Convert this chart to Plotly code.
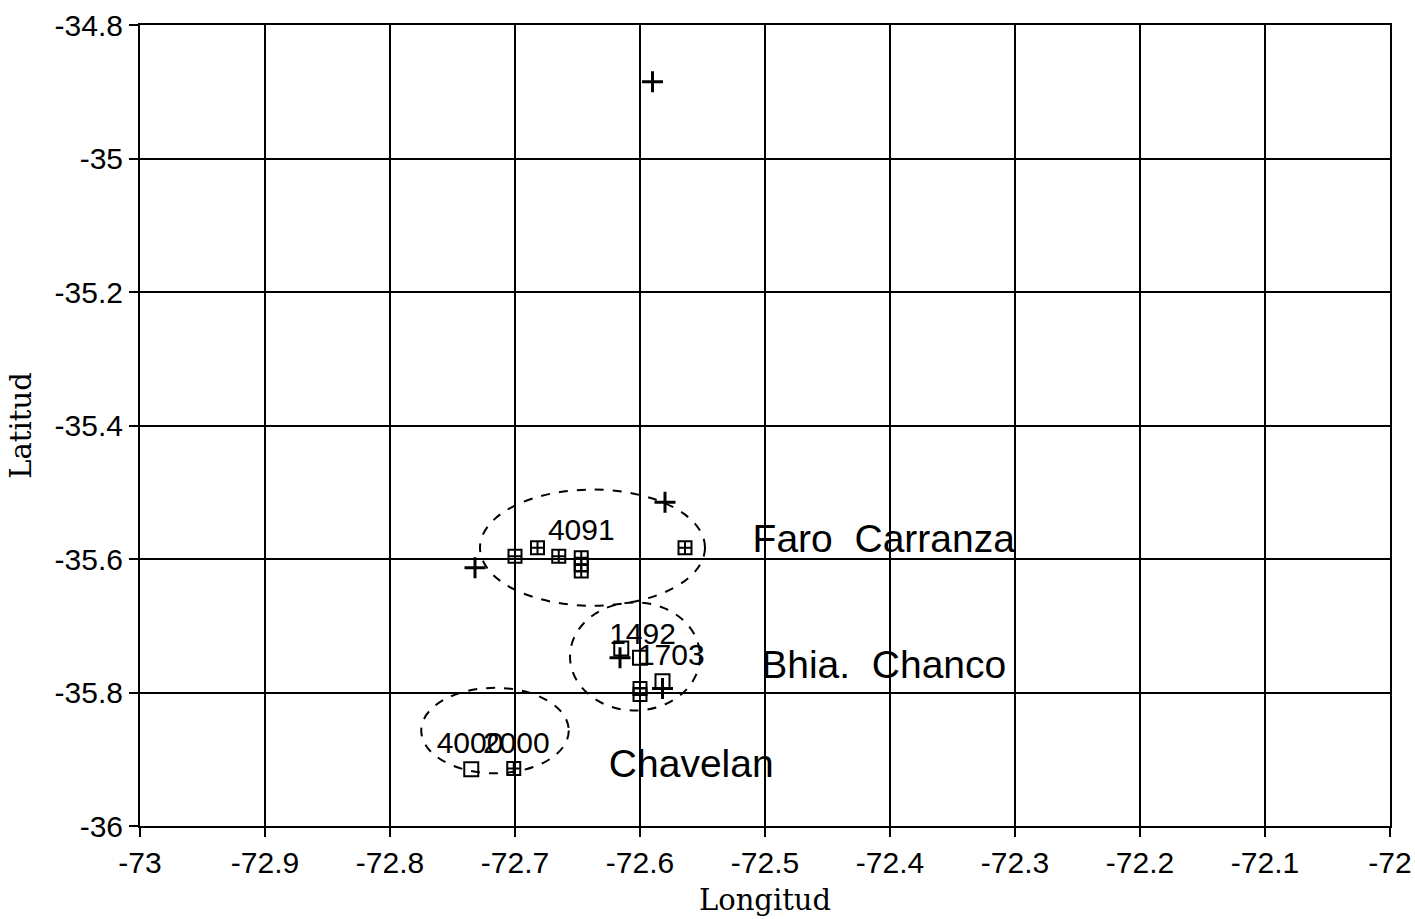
import plotly.graph_objects as go

# Station positions (longitude, latitude)
cross_lon = [-72.59, -72.58, -72.732, -72.616, -72.582]
cross_lat = [-34.885, -35.515, -35.613, -35.748, -35.794]

boxcross_lon = [-72.70, -72.682, -72.665, -72.647, -72.647, -72.647, -72.564, -72.600, -72.600, -72.701]
boxcross_lat = [-35.596, -35.583, -35.596, -35.598, -35.609, -35.618, -35.583, -35.794, -35.803, -35.914]

box_lon = [-72.615, -72.600, -72.582, -72.735]
box_lat = [-35.734, -35.748, -35.783, -35.915]

# Depth labels
depth_text = ["4091", "1492", "1703", "4000", "2000"]
depth_lon = [-72.647, -72.598, -72.575, -72.736, -72.699]
depth_lat = [-35.560, -35.716, -35.747, -35.879, -35.879]

# Place names
place_text = ["Faro  Carranza", "Bhia.  Chanco", "Chavelan"]
place_lon = [-72.405, -72.405, -72.559]
place_lat = [-35.575, -35.763, -35.912]

# Cluster ellipses: centre and half axes
ell_lon = [-72.638, -72.604, -72.716]
ell_lat = [-35.583, -35.746, -35.857]
ell_rx = [0.090, 0.052, 0.059]
ell_ry = [0.087, 0.081, 0.064]

x_ticks = [-73, -72.9, -72.8, -72.7, -72.6, -72.5, -72.4, -72.3, -72.2, -72.1, -72]
y_ticks = [-36, -35.8, -35.6, -35.4, -35.2, -35, -34.8]

_SANS = "Liberation Sans, Arial, sans-serif"
_SERIF = "DejaVu Serif, serif"

fig = go.Figure()

fig.add_trace(go.Scatter(
    x=cross_lon, y=cross_lat, mode="markers",
    marker={"symbol": "cross-thin-open", "size": 15, "color": "black",
            "line": {"color": "black", "width": 3}},
    showlegend=False,
))
fig.add_trace(go.Scatter(
    x=boxcross_lon, y=boxcross_lat, mode="markers",
    marker={"symbol": "square-cross-open", "size": 13, "color": "black",
            "line": {"color": "black", "width": 2}},
    showlegend=False,
))
fig.add_trace(go.Scatter(
    x=box_lon, y=box_lat, mode="markers",
    marker={"symbol": "square-open", "size": 14, "color": "black",
            "line": {"color": "black", "width": 2}},
    showlegend=False,
))
fig.add_trace(go.Scatter(
    x=depth_lon, y=depth_lat, mode="text", text=depth_text,
    textfont={"family": _SANS, "size": 30, "color": "black"},
    showlegend=False,
))
fig.add_trace(go.Scatter(
    x=place_lon, y=place_lat, mode="text", text=place_text,
    textfont={"family": _SANS, "size": 39, "color": "black"},
    showlegend=False,
))

for cx, cy, rx, ry in zip(ell_lon, ell_lat, ell_rx, ell_ry):
    fig.add_shape(
        type="circle", xref="x", yref="y",
        x0=cx - rx, x1=cx + rx, y0=cy - ry, y1=cy + ry,
        line={"color": "black", "width": 2, "dash": "dash"},
    )

axis_common = {
    "showgrid": True, "gridcolor": "black", "gridwidth": 2,
    "showline": True, "linecolor": "black", "linewidth": 2, "mirror": True,
    "ticks": "outside", "ticklen": 9, "tickwidth": 2, "tickcolor": "black",
    "tickfont": {"family": _SANS, "size": 30, "color": "black"},
    "zeroline": False, "automargin": False,
}

fig.update_layout(
    width=1415, height=919,
    paper_bgcolor="white", plot_bgcolor="white",
    margin={"l": 140, "r": 25, "t": 25, "b": 93},
    xaxis={
        **axis_common, "range": [-73, -72], "tickvals": x_ticks,
        "ticktext": [f"{v:g}" for v in x_ticks],
        "title": {"text": "Longitud", "font": {"family": _SERIF, "size": 29, "color": "black"}, "standoff": 12},
    },
    yaxis={
        **axis_common, "range": [-36, -34.8], "tickvals": y_ticks,
        "ticktext": [f"{v:g}" for v in y_ticks],
        "title": {"text": "Latitud", "font": {"family": _SERIF, "size": 29, "color": "black"}, "standoff": 14},
    },
)

# drop the page's default body margin so the 1415x919 figure fills the window
fig.write_html(
    "out.html",
    config={"displayModeBar": False},
    post_script="document.body.style.margin='0';document.body.style.overflow='hidden';",
)
